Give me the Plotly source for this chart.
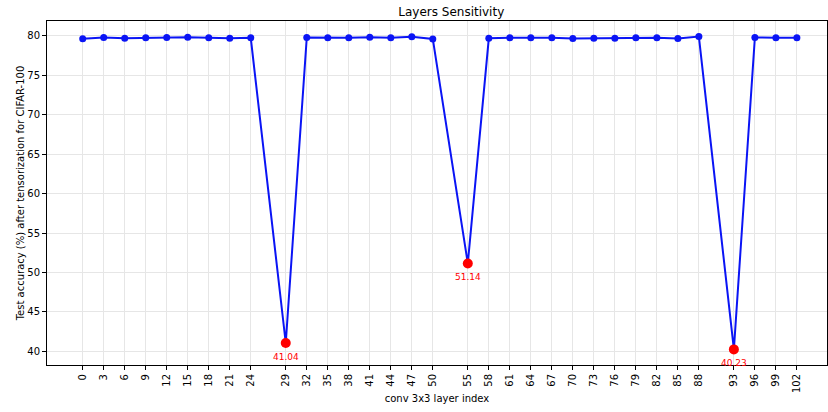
import plotly.graph_objects as go

layer_idx = [0, 3, 6, 9, 12, 15, 18, 21, 24, 29, 32, 35, 38, 41, 44, 47, 50, 55,
             58, 61, 64, 67, 70, 73, 76, 79, 82, 85, 88, 93, 96, 99, 102]
accuracy = [79.65, 79.8, 79.72, 79.76, 79.8, 79.83, 79.76, 79.7, 79.76, 41.04,
            79.8, 79.76, 79.76, 79.84, 79.76, 79.9, 79.62, 51.14,
            79.7, 79.78, 79.78, 79.76, 79.68, 79.7, 79.7, 79.76, 79.78, 79.68, 79.92,
            40.23, 79.8, 79.78, 79.78]
sensitive_idx = [29, 55, 93]
sensitive_acc = [41.04, 51.14, 40.23]
sensitive_lbl = ["41.04", "51.14", "40.23"]

font = "DejaVu Sans"
fig = go.Figure()
fig.add_trace(go.Scatter(x=layer_idx, y=accuracy, mode="lines+markers",
                         line=dict(color="#0a14f5", width=2),
                         marker=dict(color="#0a14f5", size=7), showlegend=False))
fig.add_trace(go.Scatter(x=sensitive_idx, y=sensitive_acc, mode="markers",
                         marker=dict(color="#ff0000", size=10), showlegend=False))
for xv, yv, t in zip(sensitive_idx, sensitive_acc, sensitive_lbl):
    fig.add_annotation(x=xv, y=yv, text=t, showarrow=False, yshift=-14,
                       font=dict(color="#ff0000", size=9, family=font))

axis_common = dict(showline=True, linecolor="black", linewidth=1, mirror=True,
                   ticks="outside", ticklen=4, tickcolor="black",
                   showgrid=True, gridcolor="#e6e6e6", gridwidth=1, zeroline=False,
                   automargin=False,
                   tickfont=dict(size=10, family=font, color="black"))
fig.update_xaxes(range=[-5.1, 106.3], tickmode="array", tickvals=layer_idx,
                 ticktext=[str(v) for v in layer_idx], tickangle=-90,
                 title=dict(text="conv 3x3 layer index", font=dict(size=10, family=font, color="black"),
                            standoff=2),
                 **axis_common)
fig.update_yaxes(range=[38.25, 81.9], tickmode="array", tickvals=[40, 45, 50, 55, 60, 65, 70, 75, 80],
                 title=dict(text="Test accuracy (%) after tensorization for CIFAR-100",
                            font=dict(size=10, family=font, color="black"), standoff=0),
                 **axis_common)
fig.update_layout(width=828, height=412, margin=dict(l=47, r=1, t=21, b=47, autoexpand=False),
                  plot_bgcolor="white", paper_bgcolor="white",
                  title=dict(text="Layers Sensitivity", x=0.545, xanchor="center",
                             y=0.972, yanchor="middle",
                             font=dict(size=12, family=font, color="black")))
fig.write_html("out.html", config={"displayModeBar": False},
               post_script="document.body.style.margin='0';document.body.style.overflow='hidden';")
